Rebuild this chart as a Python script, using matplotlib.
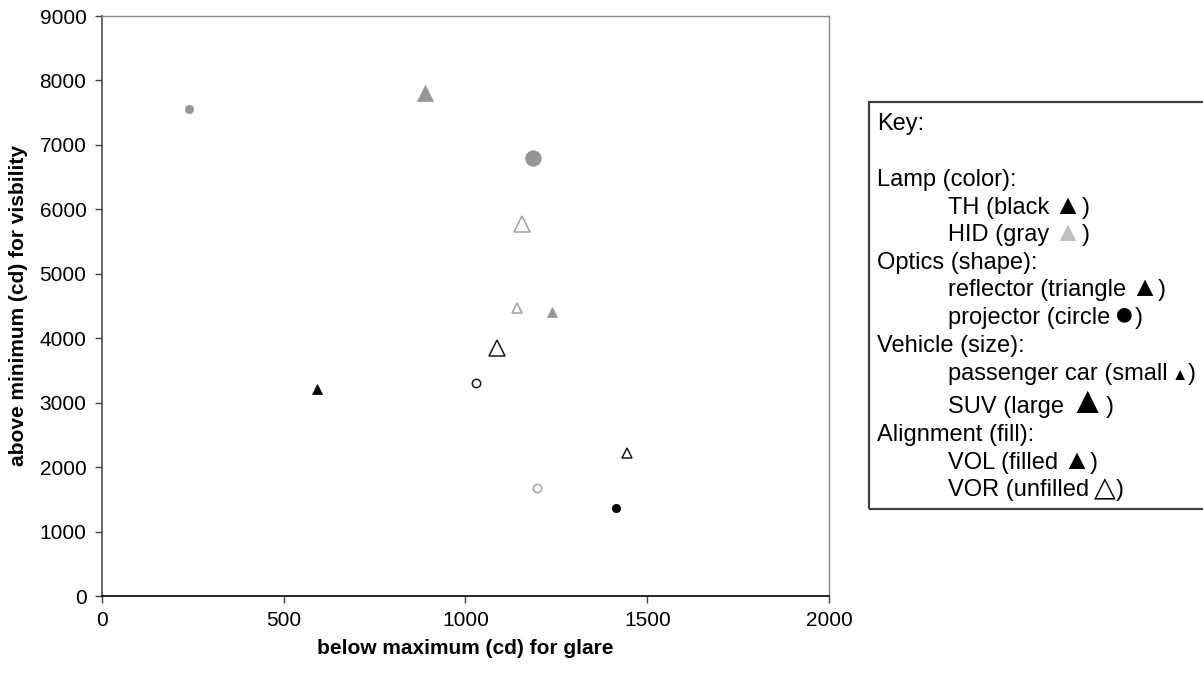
import matplotlib
matplotlib.use("Agg")
import matplotlib.pyplot as plt
from matplotlib import font_manager
from matplotlib.patches import Rectangle

# ---- data ----
glare = [240, 890, 1185, 1156, 1142, 1237, 1087, 1028, 1443, 1196, 1413, 591]
visibility = [7550, 7810, 6800, 5770, 4465, 4412, 3844, 3310, 2214, 1671, 1370, 3205]
lamp = ['HID', 'HID', 'HID', 'HID', 'HID', 'HID', 'TH', 'TH', 'TH', 'HID', 'TH', 'TH']
optics = ['projector', 'reflector', 'projector', 'reflector', 'reflector', 'reflector',
          'reflector', 'projector', 'reflector', 'projector', 'projector', 'reflector']
vehicle = ['car', 'SUV', 'SUV', 'SUV', 'car', 'car', 'SUV', 'car', 'car', 'car', 'car', 'car']
alignment = ['VOL', 'VOL', 'VOL', 'VOR', 'VOR', 'VOL', 'VOR', 'VOR', 'VOR', 'VOR', 'VOL', 'VOL']

x_ticks = [0, 500, 1000, 1500, 2000]
y_ticks = [0, 1000, 2000, 3000, 4000, 5000, 6000, 7000, 8000, 9000]
x_label = "below maximum (cd) for glare"
y_label = "above minimum (cd) for visbility"

# ---- styles ----
fill_color = {'TH': '#000000', 'HID': '#969696'}
edge_color_open = {'TH': '#1a1a1a', 'HID': '#a0a0a0'}
marker_shape = {'reflector': '^', 'projector': 'o'}
marker_size = {('reflector', 'car'): 7.0, ('reflector', 'SUV'): 11.5,
               ('projector', 'car'): 6.0, ('projector', 'SUV'): 11.2}

avail = {f.name for f in font_manager.fontManager.ttflist}
narrow = 'Liberation Sans Narrow' if 'Liberation Sans Narrow' in avail else 'Liberation Sans'
base = ['Liberation Sans', 'DejaVu Sans']
plt.rcParams['font.family'] = base

W, H = 1203, 677
fig = plt.figure(figsize=(W / 100, H / 100), dpi=100)
x0, x1, ytop, ybot = 101.7, 829.3, 16, 596
ax = fig.add_axes([x0 / W, 1 - ybot / H, (x1 - x0) / W, (ybot - ytop) / H])

for gx, vy, lp, op, vh, al in zip(glare, visibility, lamp, optics, vehicle, alignment):
    ms = marker_size[(op, vh)]
    if al == 'VOL':
        ax.plot(gx, vy, linestyle='none', marker=marker_shape[op], markersize=ms,
                markerfacecolor=fill_color[lp], markeredgecolor=fill_color[lp],
                markeredgewidth=0.5, zorder=3)
    else:
        ax.plot(gx, vy, linestyle='none', marker=marker_shape[op], markersize=ms,
                markerfacecolor='white', markeredgecolor=edge_color_open[lp],
                markeredgewidth=1.1, zorder=3)

ax.set_xlim(0, 2000)
ax.set_ylim(0, 9000)
ax.set_xticks(x_ticks)
ax.set_yticks(y_ticks)
ax.tick_params(direction='out', length=5, width=1, labelsize=15, pad=6, color='#404040')
for s in ['top', 'right']:
    ax.spines[s].set_color('#8c8c8c')
    ax.spines[s].set_linewidth(1)
ax.spines['left'].set_color('#505050')
ax.spines['bottom'].set_color('#000000')
ax.spines['left'].set_linewidth(1.2)
ax.spines['bottom'].set_linewidth(1.2)

lab_fs = 17 if narrow != 'Liberation Sans' else 15
ax.set_xlabel(x_label, fontsize=lab_fs, fontweight='bold',
              family=[narrow, 'DejaVu Sans'], labelpad=6)
ax.set_ylabel(y_label, fontsize=lab_fs, fontweight='bold',
              family=[narrow, 'DejaVu Sans'], labelpad=8)

# ---- key box ----
fig.patches.append(Rectangle((869 / W, 1 - 509 / H), (1210 - 869) / W, (509 - 102) / H,
                             transform=fig.transFigure, fill=False,
                             edgecolor='#404040', linewidth=1.6))

FS = 17
TRI = FS * 1.2
renderer = fig.canvas.get_renderer()


def line(xpix, ypix, pieces):
    x = xpix
    for txt, col, fs, pre in pieces:
        x += pre
        t = fig.text(x / W, 1 - ypix / H, txt, color=col, fontsize=fs,
                     family=base, va='baseline', ha='left')
        bb = t.get_window_extent(renderer=renderer)
        x += bb.width


L0, L1 = 877, 948
K = 'black'
rows = [
    (L0, 130, [("Key:", K, FS, 0)]),
    (L0, 186, [("Lamp (color):", K, FS, 0)]),
    (L1, 214, [("TH (black", K, FS, 0), ("\u25B2", K, TRI, 4), (")", K, FS, 0)]),
    (L1, 241, [("HID (gray", K, FS, 0), ("\u25B2", '#c0c0c0', TRI, 4), (")", K, FS, 0)]),
    (L0, 269, [("Optics (shape):", K, FS, 0)]),
    (L1, 296, [("reflector (triangle", K, FS, 0), ("\u25B2", K, TRI, 4), (")", K, FS, 0)]),
    (L1, 324, [("projector (circle", K, FS, 0), ("\u25CF", K, FS * 1.45, 4), (")", K, FS, 0)]),
    (L0, 352, [("Vehicle (size):", K, FS, 0)]),
    (L1, 380, [("passenger car (small", K, FS, 0), ("\u25B2", K, FS * 0.7, 4), (")", K, FS, 0)]),
    (L1, 413, [("SUV (large", K, FS, 0), ("\u25B2", K, FS * 1.6, 4), (")", K, FS, 0)]),
    (L0, 441, [("Alignment (fill):", K, FS, 0)]),
    (L1, 469, [("VOL (filled", K, FS, 0), ("\u25B2", K, TRI, 4), (")", K, FS, 0)]),
    (L1, 496, [("VOR (unfilled", K, FS, 0), ("\u25B3", K, TRI, 5), (")", K, FS, 0)]),
]
for xp, yp, pcs in rows:
    line(xp, yp, pcs)

fig.savefig("out.png", dpi=100, facecolor='white')
